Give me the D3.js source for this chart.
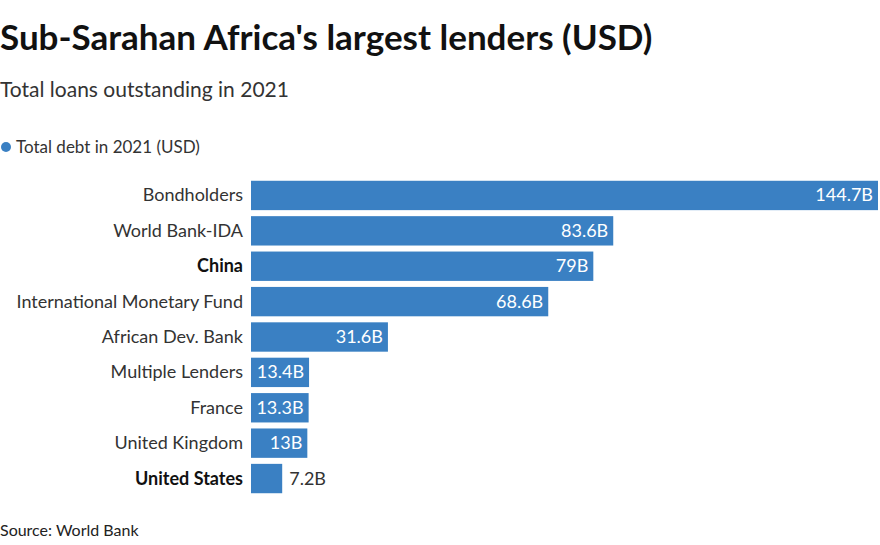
<!DOCTYPE html>
<html><head><meta charset="utf-8">
<script src="https://cdn.jsdelivr.net/npm/d3@7"></script>
<style>body{margin:0;background:#fff;font-family:Lato,"Open Sans",sans-serif;}</style>
</head><body><svg id="c" width="880" height="545"></svg>
<script>
const categories=["Bondholders","World Bank-IDA","China","International Monetary Fund","African Dev. Bank","Multiple Lenders","France","United Kingdom","United States"];
const values=[144.7,83.6,79,68.6,31.6,13.4,13.3,13,7.2];
const labels=["144.7B","83.6B","79B","68.6B","31.6B","13.4B","13.3B","13B","7.2B"];
const boldCats=["China","United States"];
const svg=d3.select("#c");
svg.append("text").attr("x",0).attr("y",50).attr("font-size",35).attr("font-weight",700).attr("fill","#111").text("Sub-Sarahan Africa's largest lenders (USD)");
svg.append("text").attr("x",0).attr("y",97).attr("font-size",21).attr("fill","#333").text("Total loans outstanding in 2021");
svg.append("circle").attr("cx",6).attr("cy",147).attr("r",5).attr("fill","#3a80c3");
svg.append("text").attr("x",16).attr("y",153).attr("font-size",17).attr("fill","#333").text("Total debt in 2021 (USD)");
const x=d3.scaleLinear().domain([0,144.7]).range([251,878]);
const y=d3.scaleBand().domain(categories).range([179,495]).paddingInner(0.17).paddingOuter(0.05);
const g=svg.append("g");
categories.forEach((c,i)=>{
  const yy=y(c),h=y.bandwidth(),cy=yy+h/2;
  g.append("rect").attr("x",x(0)).attr("y",yy).attr("width",x(values[i])-x(0)).attr("height",h).attr("fill","#3a80c3");
  g.append("text").attr("x",243).attr("y",cy+6).attr("text-anchor","end").attr("font-size",18)
    .attr("font-weight",boldCats.includes(c)?700:400).attr("fill",boldCats.includes(c)?"#111":"#333").text(c);
  const t=g.append("text").attr("y",cy+6).attr("font-size",18).text(labels[i]);
  const w=t.node().getComputedTextLength();
  const bw=x(values[i])-x(0);
  if(w+10<bw){t.attr("x",x(values[i])-5).attr("text-anchor","end").attr("fill","#fff");}
  else{t.attr("x",x(values[i])+7).attr("fill","#333");}
});
svg.append("text").attr("x",0).attr("y",536).attr("font-size",16).attr("fill","#222").text("Source: World Bank");
</script></body></html>
